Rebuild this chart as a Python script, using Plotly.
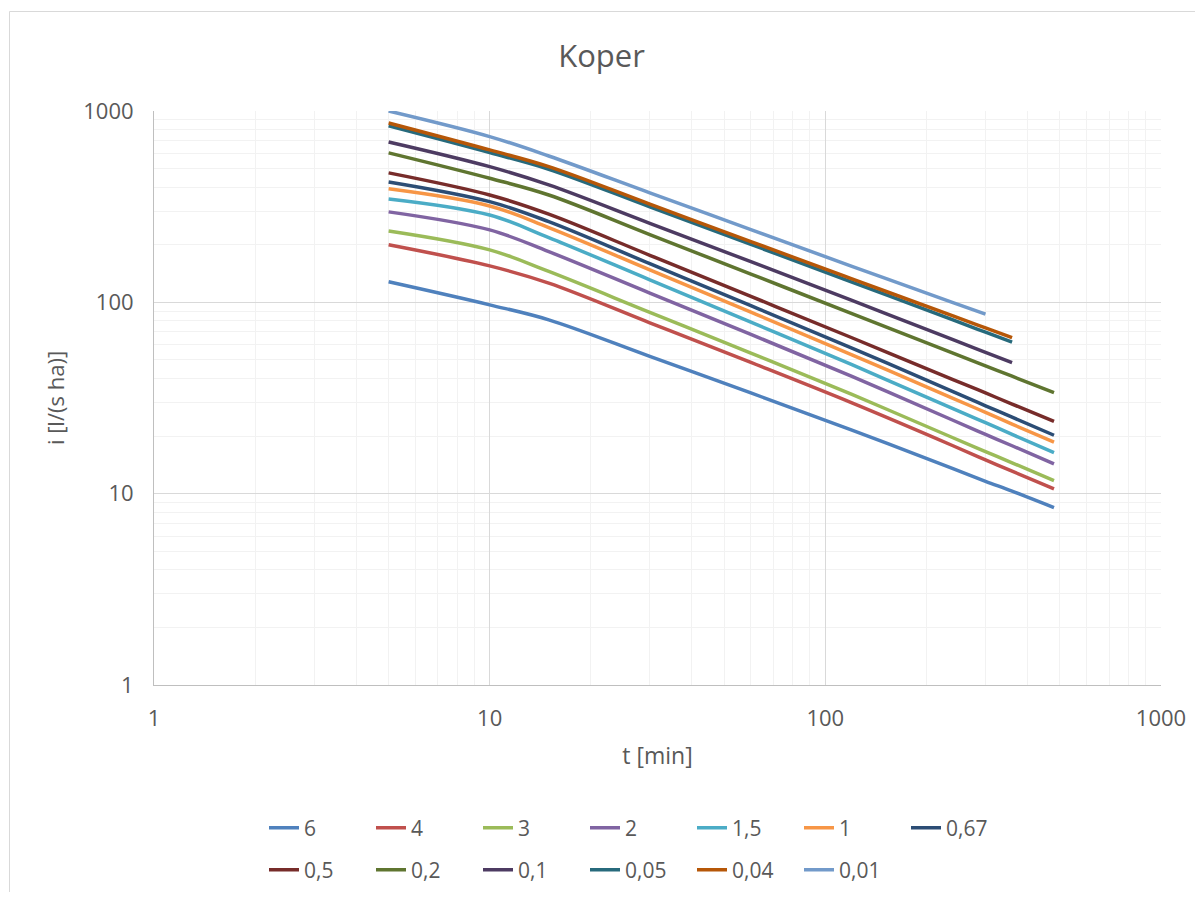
import plotly.graph_objects as go

durations = [5, 10, 15, 30, 60, 120, 240, 300, 360, 480]

series_names = ["6", "4", "3", "2", "1,5", "1", "0,67", "0,5", "0,2", "0,1", "0,05", "0,04", "0,01"]

i_6    = [128, 97, 81, 52.2, 33.6, 21.5, 13.5, 11.6, 10.3, 8.45]
i_4    = [200, 155, 126, 78.2, 48.5, 29.8, 17.8, 15.0, 13.1, 10.6]
i_3    = [236, 188, 145, 88.7, 54.3, 33.0, 19.6, 16.6, 14.5, 11.7]
i_2    = [297, 239, 184, 111.8, 68.0, 41.0, 24.2, 20.4, 17.8, 14.3]
i_1_5  = [347, 286, 218, 131.1, 78.8, 47.2, 27.8, 23.5, 20.4, 16.4]
i_1    = [392, 319, 246, 147.9, 88.9, 53.2, 31.5, 26.6, 23.1, 18.6]
i_0_67 = [426, 336, 264, 159.2, 96.1, 57.7, 34.1, 28.8, 25.1, 20.2]
i_0_5  = [475, 364, 289, 176.2, 107.4, 65.3, 39.5, 33.6, 29.4, 23.9]
i_0_2  = [604, 445, 364, 226.1, 140.5, 87.3, 54.2, 46.5, 41.1, 33.7]
i_0_1  = [689, 512, 411, 258.9, 163.1, 102.4, 63.8, 54.8, 48.4, None]
i_0_05 = [836, 606, 496, 315.7, 200.9, 127.7, 80.9, 69.8, 61.9, None]
i_0_04 = [866, 626, 512, 326.1, 207.7, 132.6, 84.9, 73.5, 65.4, None]
i_0_01 = [1000, 735, 582, 373.6, 239.9, 154.3, 99.7, 86.7, None, None]

all_values = [i_6, i_4, i_3, i_2, i_1_5, i_1, i_0_67, i_0_5, i_0_2, i_0_1, i_0_05, i_0_04, i_0_01]

colors = ["#4F81BD", "#C0504D", "#9BBB59", "#8064A2", "#4BACC6", "#F79646",
          "#2C4D75", "#772C2A", "#5F7530", "#4D3B62", "#276A7C", "#B65708", "#729ACA"]

major_ticks = [1, 10, 100, 1000]
major_text = ["1", "10", "100", "1000"]
minor_ticks = [m * d for d in (1, 10, 100) for m in range(2, 10)]

FONT = "Open Sans"
GRAY = "#595959"

fig = go.Figure()
for k, (name, vals, col) in enumerate(zip(series_names, all_values, colors)):
    xs = [t for t, v in zip(durations, vals) if v is not None]
    ys = [v for v in vals if v is not None]
    fig.add_trace(go.Scatter(
        x=xs, y=ys, name=name, mode="lines",
        line=dict(color=col, width=3.5, shape="spline", smoothing=1),
        legend="legend" if k < 7 else "legend2",
    ))

# page has an 8px body margin; figure coordinates below are relative to the figure
W, H = 1187, 884
L, R, T, B = 146, 34, 103, 207
pw, ph = W - L - R, H - T - B

def px_to_paper_x(px):
    return (px - L) / pw

def px_to_paper_y(py):
    return (H - B - py) / ph

fig.update_layout(
    width=W, height=H,
    margin=dict(l=L, r=R, t=T, b=B, autoexpand=False),
    paper_bgcolor="white", plot_bgcolor="white",
    font=dict(family=FONT, color=GRAY, size=20),
    title=dict(text="Koper", x=0.5, xanchor="center", y=1 - 48 / H, yanchor="middle",
               font=dict(size=31, color=GRAY, family=FONT)),
    showlegend=True,
    legend=dict(orientation="h", x=px_to_paper_x(256), xanchor="left",
                y=px_to_paper_y(820), yanchor="middle",
                entrywidth=62, entrywidthmode="pixels",
                font=dict(size=21, color=GRAY, family=FONT), bgcolor="rgba(0,0,0,0)",
                itemclick=False),
    legend2=dict(orientation="h", x=px_to_paper_x(256), xanchor="left",
                 y=px_to_paper_y(862), yanchor="middle",
                 entrywidth=62, entrywidthmode="pixels",
                 font=dict(size=21, color=GRAY, family=FONT), bgcolor="rgba(0,0,0,0)",
                 itemclick=False),
    shapes=[dict(type="rect", xref="paper", yref="paper",
                 x0=px_to_paper_x(1.5), x1=px_to_paper_x(W + 20),
                 y0=px_to_paper_y(H + 20), y1=px_to_paper_y(3.5),
                 line=dict(color="#D9D9D9", width=1), fillcolor="rgba(0,0,0,0)", layer="below")],
)

fig.update_xaxes(
    type="log", range=[0, 3], automargin=False,
    tickmode="array", tickvals=major_ticks, ticktext=major_text,
    showgrid=True, gridcolor="#D9D9D9", gridwidth=1,
    minor=dict(tickmode="array", tickvals=minor_ticks, showgrid=True, gridcolor="#F2F2F2", gridwidth=1),
    showline=True, linecolor="#BFBFBF", linewidth=1, mirror=False,
    ticks="", ticklabelstandoff=14,
    tickfont=dict(size=22, color=GRAY, family=FONT),
    title=dict(text="t [min]", font=dict(size=23, color=GRAY, family=FONT), standoff=16),
    zeroline=False,
)
fig.update_yaxes(
    type="log", range=[0, 3], automargin=False,
    tickmode="array", tickvals=major_ticks, ticktext=major_text,
    showgrid=True, gridcolor="#D9D9D9", gridwidth=1,
    minor=dict(tickmode="array", tickvals=minor_ticks, showgrid=True, gridcolor="#F2F2F2", gridwidth=1),
    showline=True, linecolor="#BFBFBF", linewidth=1, mirror=False,
    ticks="", ticklabelstandoff=15,
    tickfont=dict(size=22, color=GRAY, family=FONT),
    title=dict(text="i [l/(s ha)]", font=dict(size=22, color=GRAY, family=FONT), standoff=12),
    zeroline=False,
)

fig.write_html("out.html")
